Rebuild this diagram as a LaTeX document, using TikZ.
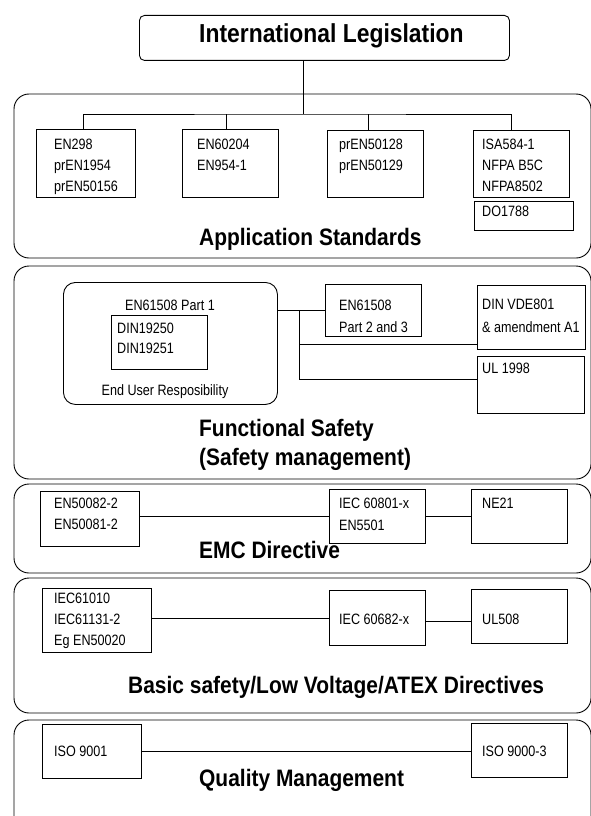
\documentclass[tikz,border=0pt]{standalone}
\usepackage{fontspec}
\usepackage{tikz}
\newfontfamily\stdfont{Liberation Sans}[FakeStretch=0.84]
\newfontfamily\headfont{Liberation Sans}[FakeStretch=0.88]
\tikzset{
  frame/.style={draw,line width=0.9pt,rounded corners=15pt},
  stdbox/.style={draw,line width=0.9pt,anchor=north west,inner sep=0pt,minimum width=96pt,minimum height=54pt},
  stdtxt/.style={anchor=base west,align=flush left,text width=115pt,inner sep=0pt,font=\stdfont\fontsize{15}{21}\selectfont},
  midtxt/.style={anchor=base,inner sep=0pt,font=\stdfont\fontsize{15}{21}\selectfont},
  head/.style={anchor=base west,align=flush left,text width=440pt,inner sep=0pt,font=\headfont\bfseries\fontsize{23.8}{29}\selectfont},
  ln/.style={line width=0.9pt},
}

\begin{document}
\begin{tikzpicture}[x=1pt,y=-1pt]
  \useasboundingbox (0,0) rectangle (590,816);
  % section frames
  \draw[frame] (14,94) rectangle (591,258);
  \draw[frame] (14,266) rectangle (591,479);
  \draw[frame] (14,484) rectangle (591,573);
  \draw[frame] (14,578) rectangle (591,713);
  \draw[frame] (14,720) rectangle (591,850);

  % top
  \node[stdbox,rounded corners=5pt,minimum width=370,minimum height=45] (intl) at (139,15) {};
  \node[head,font=\headfont\bfseries\fontsize{26}{30}\selectfont] (intlt) at (199,43) {International Legislation};

  % application standards
  \node[stdbox,minimum width=99,minimum height=68] (en298) at (36,129) {};
  \node[stdtxt] (en298t) at (54,149) {EN298\\prEN1954\\prEN50156};
  \node[stdbox,minimum width=96,minimum height=68] (en60204) at (182,129) {};
  \node[stdtxt] (en60204t) at (197,149) {EN60204\\EN954-1};
  \node[stdbox,minimum width=96,minimum height=67] (pren) at (327,130) {};
  \node[stdtxt] (prent) at (339,149) {prEN50128\\prEN50129};
  \node[stdbox,minimum width=96,minimum height=67] (isa) at (473,130) {};
  \node[stdtxt] (isat) at (482,149) {ISA584-1\\NFPA B5C\\NFPA8502};
  \node[stdbox,minimum width=99,minimum height=29] (do1788) at (474,201) {};
  \node[stdtxt] (do1788t) at (482,216) {DO1788};
  \node[head] (appt) at (199,245) {Application Standards};
  \coordinate (hub) at (303,114);
  \draw[ln] (intl.south -| hub) -- (hub);
  \draw[ln] ([xshift=47]en298.north west) |- (hub) -| ([xshift=38]isa.north west);
  \draw[ln] ([xshift=44]en60204.north west) -- ++(0,-15);
  \draw[ln] ([xshift=41]pren.north west) -- ++(0,-16);

  % functional safety
  \node[stdbox,rounded corners=12pt,minimum width=214,minimum height=122] (eur) at (63,282) {};
  \node[midtxt] (eurt) at (170,310) {EN61508 Part 1};
  \node[stdbox,minimum width=96,minimum height=54] (din) at (111,315) {};
  \node[stdtxt,font=\stdfont\fontsize{15}{20}\selectfont] (dint) at (117,333) {DIN19250\\DIN19251};
  \node[midtxt] (eurb) at (165,395) {End User Resposibility};
  \node[stdbox,minimum width=96,minimum height=52] (en61508) at (325,284) {};
  \node[stdtxt,font=\stdfont\fontsize{15}{22}\selectfont] (en61508t) at (339,310) {EN61508\\Part 2 and 3};
  \node[stdbox,minimum width=108,minimum height=64] (dinvde) at (477,285) {};
  \node[stdtxt,font=\stdfont\fontsize{15}{23}\selectfont] (dinvdet) at (482,309) {DIN VDE801\\\& amendment A1};
  \node[stdbox,minimum width=107,minimum height=57] (ul1998) at (477,356) {};
  \node[stdtxt] (ul1998t) at (482,373) {UL 1998};
  \node[head] (fst) at (199,436) {Functional Safety\\(Safety management)};
  \coordinate (fsA) at (299,344);
  \coordinate (fsB) at (299,379);
  \draw[ln] (eur.east |- en61508.west) -- (en61508.west);
  \draw[ln] (fsA |- en61508.west) -- (fsB) -- (fsB -| ul1998.west);
  \draw[ln] (fsA) -- (fsA -| dinvde.west);

  % emc
  \node[stdbox,minimum width=99,minimum height=55] (en50082) at (40,491) {};
  \node[stdtxt] (en50082t) at (54,508) {EN50082-2\\EN50081-2};
  \node[stdbox,minimum width=96,minimum height=54] (iec801) at (329,489) {};
  \node[stdtxt,font=\stdfont\fontsize{15}{22}\selectfont] (iec801t) at (339,508) {IEC 60801-x\\EN5501};
  \node[stdbox,minimum width=96,minimum height=54] (ne21) at (471,489) {};
  \node[stdtxt] (ne21t) at (482,508) {NE21};
  \node[head] (emct) at (199,558) {EMC Directive};
  \draw[ln] (iec801.west -| en50082.east) -- (iec801.west);
  \draw[ln] (iec801.east) -- (ne21.west);

  % basic safety
  \node[stdbox,minimum width=109,minimum height=64] (iec61010) at (42,588) {};
  \node[stdtxt] (iec61010t) at (54,603) {IEC61010\\IEC61131-2\\Eg EN50020};
  \node[stdbox,minimum width=96,minimum height=55] (iec682) at (329,590) {};
  \node[stdtxt] (iec682t) at (339,624) {IEC 60682-x};
  \node[stdbox,minimum width=96,minimum height=54] (ul508) at (471,589) {};
  \node[stdtxt] (ul508t) at (482,624) {UL508};
  \node[head] (lvdt) at (128,693) {Basic safety/Low Voltage/ATEX Directives};
  \draw[ln] (iec682.west -| iec61010.east) -- (iec682.west);
  \draw[ln] ([yshift=-3]iec682.east) -- ([yshift=-3]iec682.east -| ul508.west);

  % quality
  \node[stdbox,minimum width=99,minimum height=54] (iso9001) at (42,724) {};
  \node[stdtxt] (iso9001t) at (54,756) {ISO 9001};
  \node[stdbox,minimum width=96,minimum height=54] (iso9000) at (471,723) {};
  \node[stdtxt] (iso9000t) at (482,756) {ISO 9000-3};
  \node[head] (qmt) at (199,786) {Quality Management};
  \draw[ln] (iso9001.east) -- (iso9001.east -| iso9000.west);
\end{tikzpicture}
\end{document}
